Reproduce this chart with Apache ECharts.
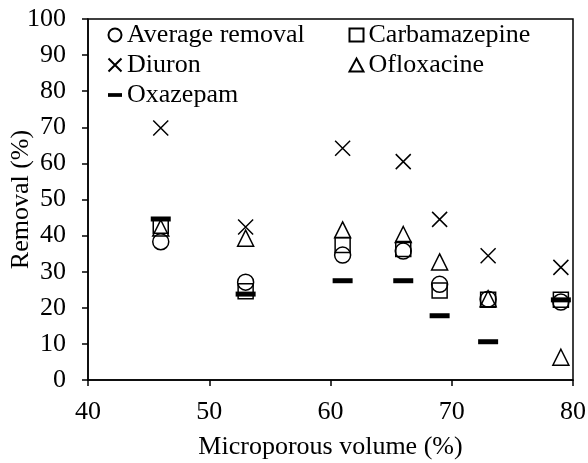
<!DOCTYPE html>
<html>
<head>
<meta charset="utf-8">
<script src="https://cdn.jsdelivr.net/npm/echarts@6/dist/echarts.min.js"></script>
<style>
  html, body { margin: 0; padding: 0; background: #fff; }
  #chart { width: 588px; height: 463px; }
</style>
</head>
<body>
<div id="chart"></div>
<script>
// microporous volume (%) for each adsorbent
var volume = [46, 53, 61, 66, 69, 73, 79]

var averageRemoval = [38.3, 27.1, 34.6, 35.7, 26.5, 22.4, 21.6]
var carbamazepine = [42.7, 24.6, 37.4, 36.3, 24.8, 22.2, 22.2]
var diuron = [69.8, 42.4, 64.2, 60.5, 44.5, 34.4, 31.2]
var ofloxacine = [42.1, 39.3, 41.6, 40.3, 32.7, 22.5, 6.3]
var oxazepam = [44.6, 23.8, 27.5, 27.5, 17.8, 10.6, 22.2]

var font = 'Liberation Serif, Times New Roman, serif'
var crossPath = 'path://M0,0L10,10M0,10L10,0'
var dashPath = 'path://M0,0H15V4H0Z'

function pairs(ys) {
  return volume.map(function (x, i) { return [x, ys[i]] })
}

function hollow(name, symbol, size, ys) {
  return {
    name: name,
    type: 'scatter',
    symbol: symbol,
    symbolSize: size,
    data: pairs(ys),
    itemStyle: { color: 'none', borderColor: '#000', borderWidth: 1.5, opacity: 1 }
  }
}

function legendBlock(left, names) {
  return {
    orient: 'vertical', left: left, top: 17, itemGap: 4,
    itemWidth: 14, itemHeight: 13,
    textStyle: { fontFamily: font, fontSize: 26, color: '#000' },
    data: names
  }
}

var chart = echarts.init(document.getElementById('chart'))
chart.setOption({
  animation: false,
  textStyle: { fontFamily: font, color: '#000' },
  grid: {
    left: 88, right: 15, top: 19, bottom: 83,
    outerBoundsMode: 'none',
    show: true, borderColor: '#000', borderWidth: 1.5
  },
  legend: [
    legendBlock(101, [
      { name: 'Average removal' },
      { name: 'Diuron' },
      { name: 'Oxazepam', icon: dashPath }
    ]),
    legendBlock(342, [
      { name: 'Carbamazepine' },
      { name: 'Ofloxacine' }
    ])
  ],
  xAxis: {
    type: 'value', min: 40, max: 80, interval: 10,
    name: 'Microporous volume (%)', nameLocation: 'middle', nameGap: 54,
    nameMoveOverlap: false,
    nameTextStyle: { fontFamily: font, fontSize: 26, color: '#000' },
    axisLine: { lineStyle: { color: '#000', width: 1.5 } },
    axisTick: { length: 6, lineStyle: { color: '#000', width: 1.5 } },
    axisLabel: { margin: 19, fontFamily: font, fontSize: 26, color: '#000' },
    splitLine: { show: false }
  },
  yAxis: {
    type: 'value', min: 0, max: 100, interval: 10,
    name: 'Removal (%)', nameLocation: 'middle', nameGap: 54,
    nameMoveOverlap: false,
    nameTextStyle: { fontFamily: font, fontSize: 26, color: '#000' },
    axisLine: { show: true, lineStyle: { color: '#000', width: 1.5 } },
    axisTick: { show: true, length: 6, lineStyle: { color: '#000', width: 1.5 } },
    axisLabel: { margin: 22, fontFamily: font, fontSize: 26, color: '#000' },
    splitLine: { show: false }
  },
  series: [
    hollow('Average removal', 'circle', 16, averageRemoval),
    hollow('Carbamazepine', 'rect', 15, carbamazepine),
    hollow('Diuron', crossPath, 15, diuron),
    hollow('Ofloxacine', 'triangle', 16, ofloxacine),
    {
      name: 'Oxazepam',
      type: 'scatter',
      symbol: 'rect',
      symbolSize: [20, 5],
      data: pairs(oxazepam),
      itemStyle: { color: '#000', opacity: 1 }
    }
  ]
})
</script>
</body>
</html>
